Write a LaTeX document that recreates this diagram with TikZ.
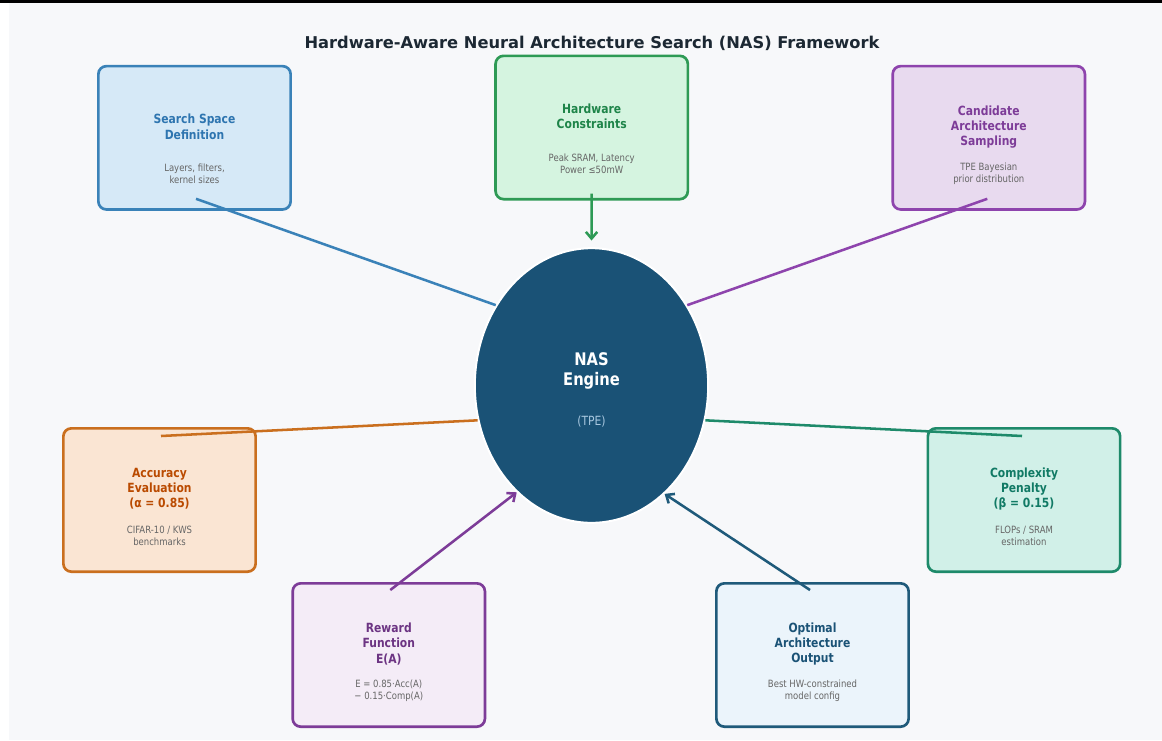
\documentclass[tikz,border=0pt]{standalone}
\usepackage{fontspec}
\setmainfont{DejaVu Sans}[FakeStretch=0.85]
\newfontfamily\titlefont{DejaVu Sans}
\usetikzlibrary{calc,arrows.meta,shapes.geometric}

% palette
\definecolor{bgpage}{HTML}{F7F8FA}
\definecolor{ink}{HTML}{1C2833}
\definecolor{notegray}{HTML}{666666}
\definecolor{lSS}{HTML}{3A82B8}\definecolor{fSS}{HTML}{D6E9F7}\definecolor{tSS}{HTML}{2E75B0}
\definecolor{lHW}{HTML}{2E9A55}\definecolor{fHW}{HTML}{D5F4E0}\definecolor{tHW}{HTML}{1E8449}
\definecolor{lCA}{HTML}{8E44AD}\definecolor{fCA}{HTML}{E8DAEF}\definecolor{tCA}{HTML}{7D3C98}
\definecolor{lAC}{HTML}{CA6F1E}\definecolor{fAC}{HTML}{FAE5D3}\definecolor{tAC}{HTML}{BA4A00}
\definecolor{lCP}{HTML}{1E8A6A}\definecolor{fCP}{HTML}{D1F0E8}\definecolor{tCP}{HTML}{117A65}
\definecolor{lRW}{HTML}{7D3C98}\definecolor{fRW}{HTML}{F4ECF7}\definecolor{tRW}{HTML}{6C3483}
\definecolor{lOP}{HTML}{1F5A7A}\definecolor{fOP}{HTML}{EBF4FB}\definecolor{tOP}{HTML}{1A5276}
\definecolor{engine}{HTML}{1A5276}
\definecolor{engsub}{HTML}{A9C8E0}

\tikzset{
  card/.style={rounded corners=6pt, line width=2pt,
    minimum width=144.2pt, minimum height=107.5pt, inner sep=0pt},
  head/.style={font=\bfseries\fontsize{9.5}{11.3}\selectfont, align=center, inner sep=0pt},
  note/.style={font=\fontsize{7.5}{9}\selectfont, text=notegray, align=center, inner sep=0pt},
  link/.style={line width=1.9pt},
  tip/.style={-{Straight Barb[length=5pt,width=8.5pt,line width=1.9pt]}},
}

\begin{document}
\begin{tikzpicture}[x=0.75pt,y=-0.75pt]
  % canvas
  \useasboundingbox (0,0) rectangle (1162,740);
  \fill[white] (0,0) rectangle (1162,740);
  \fill[bgpage] (9,3) rectangle (1162,740);
  \fill[black] (0,0) rectangle (1162,3);

  \node[font=\titlefont\bfseries\fontsize{12.2}{14}\selectfont, text=ink, inner sep=0pt] (title) at (592,43)
    {Hardware-Aware Neural Architecture Search (NAS) Framework};

  % component cards
  \node[card, draw=lSS, fill=fSS] (ss) at (194.5,137.8) {};
  \node[head, text=tSS] (ss-t) at ($(ss)+(0,-11)$) {Search Space\\Definition};
  \node[note] (ss-n) at ($(ss)+(0,36)$) {Layers, filters,\\kernel sizes};

  \node[card, draw=lHW, fill=fHW] (hw) at (591.7,127.5) {};
  \node[head, text=tHW] (hw-t) at ($(hw)+(0,-11)$) {Hardware\\Constraints};
  \node[note] (hw-n) at ($(hw)+(0,36)$) {Peak SRAM, Latency\\Power ≤50mW};

  \node[card, draw=lCA, fill=fCA] (ca) at (988.8,137.8) {};
  \node[head, text=tCA] (ca-t) at ($(ca)+(0,-11)$) {Candidate\\Architecture\\Sampling};
  \node[note] (ca-n) at ($(ca)+(0,36)$) {TPE Bayesian\\prior distribution};

  \node[card, draw=lAC, fill=fAC] (ac) at (159.5,500) {};
  \node[head, text=tAC] (ac-t) at ($(ac)+(0,-11)$) {Accuracy\\Evaluation\\(α = 0.85)};
  \node[note] (ac-n) at ($(ac)+(0,36)$) {CIFAR-10 / KWS\\benchmarks};

  \node[card, draw=lCP, fill=fCP] (cp) at (1024,500) {};
  \node[head, text=tCP] (cp-t) at ($(cp)+(0,-11)$) {Complexity\\Penalty\\(β = 0.15)};
  \node[note] (cp-n) at ($(cp)+(0,36)$) {FLOPs / SRAM\\estimation};

  \node[card, draw=lRW, fill=fRW] (rw) at (388.8,655) {};
  \node[head, text=tRW] (rw-t) at ($(rw)+(0,-11)$) {Reward\\Function\\E(A)};
  \node[note] (rw-n) at ($(rw)+(0,36)$) {E = 0.85·Acc(A)\\− 0.15·Comp(A)};

  \node[card, draw=lOP, fill=fOP] (op) at (812.5,655) {};
  \node[head, text=tOP] (op-t) at ($(op)+(0,-11)$) {Optimal\\Architecture\\Output};
  \node[note] (op-n) at ($(op)+(0,36)$) {Best HW-constrained\\model config};

  % central engine
  \node[ellipse, fill=engine, draw=white, line width=1.5pt, inner sep=0pt,
        minimum width=175pt, minimum height=206pt] (nas) at (591.5,385.5) {};
  \node[font=\bfseries\fontsize{13}{15.3}\selectfont, text=white, align=center, inner sep=0pt]
    (nas-t) at ($(nas)+(0,-14.5)$) {NAS\\Engine};
  \node[font=\fontsize{9.5}{11}\selectfont, text=engsub, inner sep=0pt]
    (nas-n) at ($(nas)+(0,36.5)$) {(TPE)};

  % connectors
  \draw[link, lSS] ($(ss.south)+(1.5,-12)$) -- (nas.140);
  \draw[link, lCA] ($(ca.south)+(-1.5,-12)$) -- (nas.40);
  \draw[link, lAC] ($(ac.north)+(1.5,9)$) -- (nas.197);
  \draw[link, lCP] ($(cp.north)+(-2,9)$) -- (nas.343);
  \draw[link, lHW, tip, shorten >=5pt] ($(hw.south)+(0,-7)$) -- (nas.north);
  \draw[link, lRW, tip] ($(rw.north)+(1.5,8)$) -- (nas.235);
  \draw[link, lOP, tip] ($(op.north)+(-2.5,8)$) -- (nas.304);
\end{tikzpicture}
\end{document}
